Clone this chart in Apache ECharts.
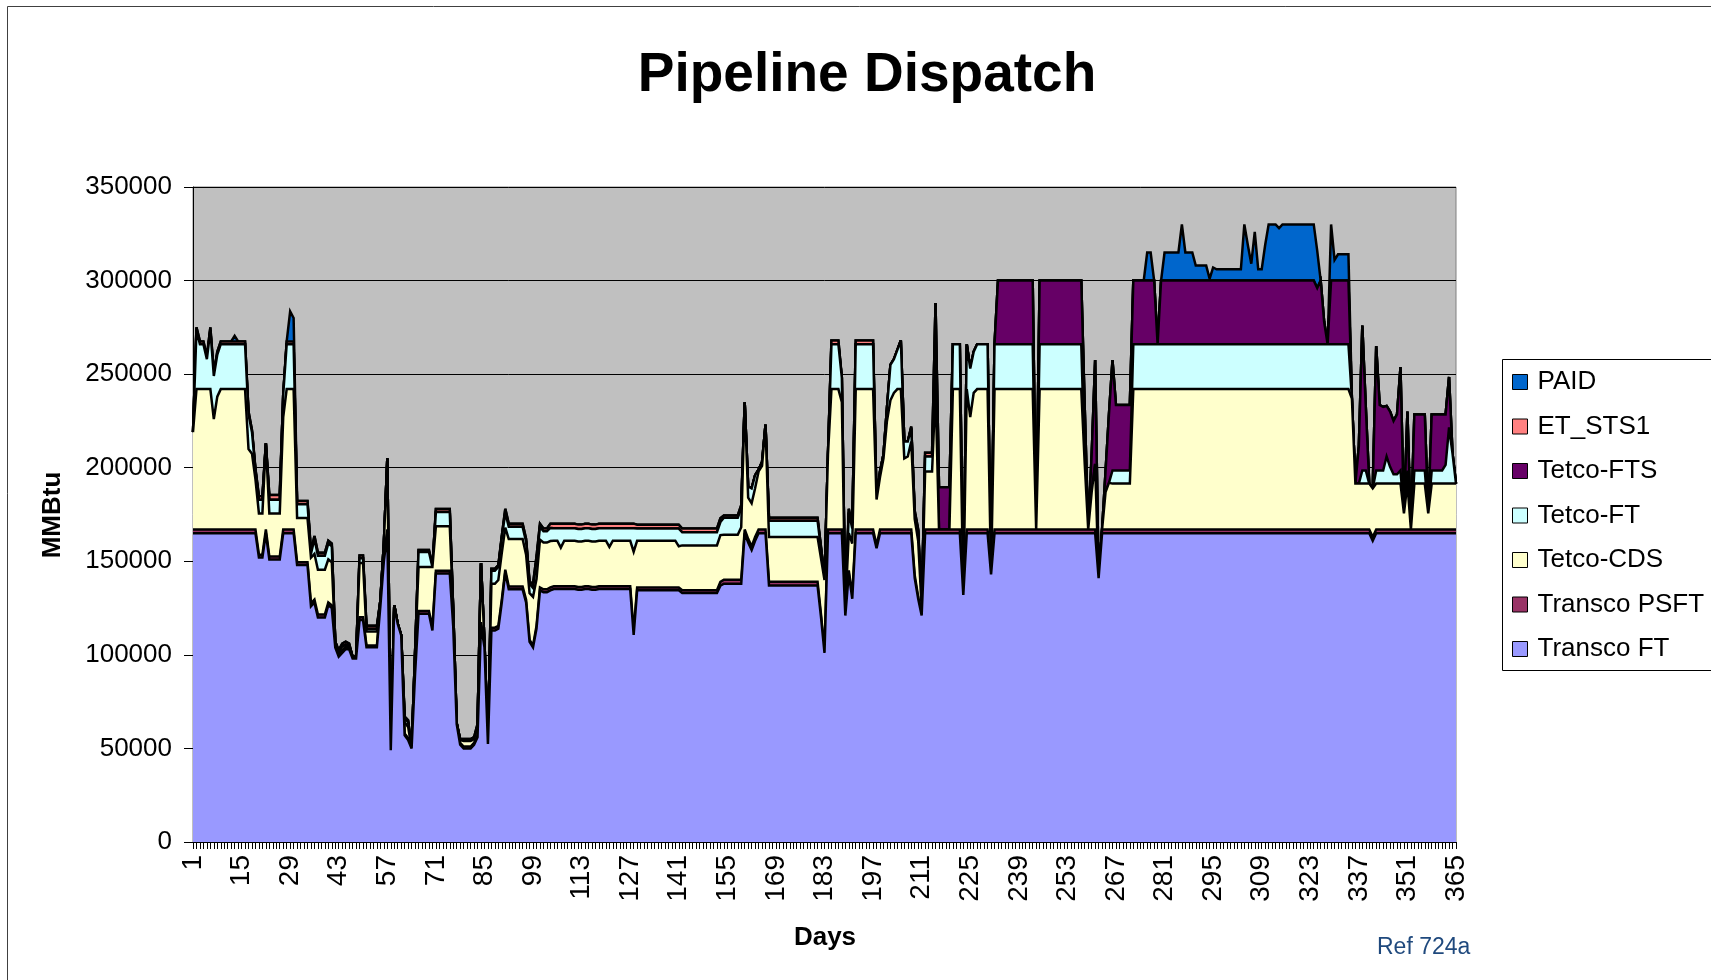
<!DOCTYPE html>
<html>
<head>
<meta charset="utf-8">
<title>Pipeline Dispatch</title>
<script src="https://cdn.jsdelivr.net/npm/echarts@6/dist/echarts.min.js"></script>
<style>
  html, body { margin: 0; padding: 0; background: #ffffff; }
  #chart { width: 1711px; height: 980px; }
</style>
</head>
<body>
<div id="chart"></div>
<script>
// Daily pipeline volumes in MMBtu, one value per day (days 1-365), rows of ten days.
const transcoFT = [
  165000,165000,165000,165000,165000,165000,165000,165000,165000,165000,
  165000,165000,165000,165000,165000,165000,165000,165000,165000,152000,
  152000,165000,151000,151000,151000,151000,165000,165000,165000,165000,
  148000,148000,148000,148000,126000,128000,120000,120000,120000,126500,
  125000,104000,99000,101000,103000,103000,98000,98000,118600,118600,
  104000,104000,104000,104000,126000,150000,165000,49000,126500,116500,
  110500,57000,54500,50000,90000,122000,122000,122000,122000,113000,
  143500,143500,143500,143500,143500,115000,63000,52000,50000,50000,
  50000,52000,56000,116000,104000,52400,113000,113000,114000,128000,
  144000,135000,135000,135000,135000,135000,128000,107000,104000,114000,
  134500,133500,133500,134500,135200,135200,135200,135200,135200,135200,
  135200,134800,134800,135200,135200,134800,134800,135200,135200,135200,
  135200,135200,135200,135200,135200,135200,135200,110600,134500,134500,
  134500,134500,134500,134500,134500,134500,134500,134500,134500,134500,
  134500,133000,133000,133000,133000,133000,133000,133000,133000,133000,
  133000,133000,137000,138000,138000,138000,138000,138000,138000,165000,
  160000,156000,161000,165000,165000,165000,137000,137000,137000,137000,
  137000,137000,137000,137000,137000,137000,137000,137000,137000,137000,
  137000,120000,101000,165000,165000,165000,165000,165000,121000,143600,
  130000,165000,165000,165000,165000,165000,165000,157000,165000,165000,
  165000,165000,165000,165000,165000,165000,165000,165000,141000,130000,
  121000,165000,165000,165000,165000,165000,165000,165000,165000,165000,
  165000,165000,132000,165000,165000,165000,165000,165000,165000,165000,
  143000,165000,165000,165000,165000,165000,165000,165000,165000,165000,
  165000,165000,165000,165000,165000,165000,165000,165000,165000,165000,
  165000,165000,165000,165000,165000,165000,165000,165000,165000,165000,
  165000,141000,165000,165000,165000,165000,165000,165000,165000,165000,
  165000,165000,165000,165000,165000,165000,165000,165000,165000,165000,
  165000,165000,165000,165000,165000,165000,165000,165000,165000,165000,
  165000,165000,165000,165000,165000,165000,165000,165000,165000,165000,
  165000,165000,165000,165000,165000,165000,165000,165000,165000,165000,
  165000,165000,165000,165000,165000,165000,165000,165000,165000,165000,
  165000,165000,165000,165000,165000,165000,165000,165000,165000,165000,
  165000,165000,165000,165000,165000,165000,165000,165000,165000,165000,
  161000,165000,165000,165000,165000,165000,165000,165000,165000,165000,
  165000,165000,165000,165000,165000,165000,165000,165000,165000,165000,
  165000,165000,165000,165000,165000
];

const transcoPSFT = [
  2000,2000,2000,2000,2000,2000,2000,2000,2000,2000,
  2000,2000,2000,2000,2000,2000,2000,2000,2000,1500,
  1500,2000,1500,1500,1500,1500,2000,2000,2000,2000,
  1500,1500,1500,1500,1500,1500,1500,1500,1500,1500,
  1500,1000,1000,1500,1500,1000,500,500,1500,1500,
  1000,1000,1000,1000,1000,1500,2000,0,0,0,
  0,1000,1000,0,1000,1500,1500,1500,1500,1500,
  1500,1500,1500,1500,1500,1000,500,1000,1000,1000,
  1000,1000,1000,1500,1000,0,1500,1500,1500,1500,
  1500,1500,1500,1500,1500,1500,1500,1000,1000,1500,
  1500,1500,1500,1500,1500,1500,1500,1500,1500,1500,
  1500,1500,1500,1500,1500,1500,1500,1500,1500,1500,
  1500,1500,1500,1500,1500,1500,1500,1500,1500,1500,
  1500,1500,1500,1500,1500,1500,1500,1500,1500,1500,
  1500,1500,1500,1500,1500,1500,1500,1500,1500,1500,
  1500,1500,2000,2200,2200,2200,2200,2200,2200,2000,
  2000,2000,2000,2000,2000,2000,2000,2000,2000,2000,
  2000,2000,2000,2000,2000,2000,2000,2000,2000,2000,
  2000,1500,1000,2000,2000,2000,2000,2000,1000,1500,
  1500,2000,2000,2000,2000,2000,2000,1500,2000,2000,
  2000,2000,2000,2000,2000,2000,2000,2000,1500,1000,
  1000,2000,2000,2000,2000,2000,2000,2000,2000,2000,
  2000,2000,0,2000,2000,2000,2000,2000,2000,2000,
  0,2000,2000,2000,2000,2000,2000,2000,2000,2000,
  2000,2000,2000,2000,2000,2000,2000,2000,2000,2000,
  2000,2000,2000,2000,2000,2000,2000,2000,2000,2000,
  2000,0,2000,2000,2000,2000,2000,2000,2000,2000,
  2000,2000,2000,2000,2000,2000,2000,2000,2000,2000,
  2000,2000,2000,2000,2000,2000,2000,2000,2000,2000,
  2000,2000,2000,2000,2000,2000,2000,2000,2000,2000,
  2000,2000,2000,2000,2000,2000,2000,2000,2000,2000,
  2000,2000,2000,2000,2000,2000,2000,2000,2000,2000,
  2000,2000,2000,2000,2000,2000,2000,2000,2000,2000,
  2000,2000,2000,2000,2000,2000,2000,2000,2000,2000,
  2000,2000,2000,2000,2000,2000,2000,2000,2000,2000,
  2000,2000,2000,2000,2000,2000,2000,2000,2000,2000,
  2000,2000,2000,2000,2000
];

const tetcoCDS = [
  52000,75000,75000,75000,75000,75000,59000,71000,75000,75000,
  75000,75000,75000,75000,75000,75000,43000,40500,26800,22100,
  22100,46000,23100,23100,23100,23100,60000,75000,75000,75000,
  23600,23600,23600,23600,24500,24500,24000,24000,24000,23000,
  23000,2000,1000,2000,1000,1000,500,0,29000,29000,
  7500,7500,7500,7500,2000,8000,38000,0,0,0,
  0,6000,6000,0,10000,23500,23500,23500,23500,32500,
  23700,23700,23700,23700,23700,8000,0,1500,3000,3000,
  3000,2000,5000,31500,2000,0,23500,23500,24500,25000,
  22500,25400,25400,25400,25400,25400,24000,25000,26000,25000,
  25500,25000,25000,24800,24300,24300,20600,24300,24300,24300,
  24300,24300,24300,24300,24300,24300,24300,24300,24300,24300,
  21000,24300,24300,24300,24300,24300,24300,43000,25000,25000,
  25000,25000,25000,25000,25000,25000,25000,25000,25000,25000,
  22000,24000,24000,24000,24000,24000,24000,24000,24000,24000,
  24000,24000,25000,24000,24000,24000,24000,24000,28000,68000,
  22000,23000,26000,31000,34000,56000,24000,24000,24000,24000,
  24000,24000,24000,24000,24000,24000,24000,24000,24000,24000,
  24000,30000,38000,40000,75000,75000,75000,68000,3000,20000,
  28000,75000,75000,75000,75000,75000,75000,24500,28000,38000,
  58000,69000,73000,75000,75000,38000,39000,47000,30000,30000,
  3000,31000,31000,31000,75000,0,0,0,0,75000,
  75000,75000,0,75000,60000,73000,75000,75000,75000,75000,
  0,75000,75000,75000,75000,75000,75000,75000,75000,75000,
  75000,75000,75000,0,75000,75000,75000,75000,75000,75000,
  75000,75000,75000,75000,75000,75000,75000,35000,0,20000,
  35000,0,0,20000,25000,24500,24500,24500,24500,24500,
  24500,75000,75000,75000,75000,75000,75000,75000,75000,75000,
  75000,75000,75000,75000,75000,75000,75000,75000,75000,75000,
  75000,75000,75000,75000,75000,75000,75000,75000,75000,75000,
  75000,75000,75000,75000,75000,75000,75000,75000,75000,75000,
  75000,75000,75000,75000,75000,75000,75000,75000,75000,75000,
  75000,75000,75000,75000,75000,75000,75000,75000,75000,75000,
  75000,75000,75000,75000,70000,24500,24500,24500,24500,24500,
  26000,24500,24500,24500,24500,24500,24500,24500,24500,8600,
  24500,0,24500,24500,24500,24500,8600,24500,24500,24500,
  24500,24500,24500,24500,24500
];

const tetcoFT = [
  0,31500,24000,24000,16000,31500,23000,22500,24000,24000,
  24000,24000,24000,24000,24000,24000,18500,11500,4600,7300,
  7300,0,7300,7300,7300,7300,12000,24000,24000,24000,
  7400,7400,7400,7400,2000,8000,7500,7500,7500,8500,
  8500,0,0,0,0,0,0,0,2500,2500,
  1500,1500,1500,1500,0,0,0,0,0,0,
  0,2000,2500,0,0,8000,8000,8000,8000,0,
  7600,7600,7600,7600,7600,0,0,0,0,0,
  0,0,0,0,0,0,7000,7000,7000,8000,
  8000,6500,6500,6500,6500,6500,7000,5000,4700,10000,
  6800,6000,6000,7000,6700,6700,10400,6700,6700,6700,
  6700,6700,6700,6700,6700,6700,6700,6700,6700,6700,
  10000,6700,6700,6700,6700,6700,6700,12500,6500,6500,
  6500,6500,6500,6500,6500,6500,6500,6500,6500,6500,
  9500,7000,7000,7000,7000,7000,7000,7000,7000,7000,
  7000,7000,7000,9100,9100,9100,9100,9100,10000,0,
  6000,8000,7000,1000,2000,0,8700,8700,8700,8700,
  8700,8700,8700,8700,8700,8700,8700,8700,8700,8700,
  8700,5000,0,0,24000,24000,24000,13000,0,11000,
  8000,24000,24000,24000,24000,24000,24000,0,3000,2000,
  7000,19000,18000,21000,26000,9000,8000,7000,3000,5000,
  0,8000,8000,8000,24000,0,0,0,0,24000,
  24000,24000,0,24000,26000,22000,24000,24000,24000,24000,
  0,24000,24000,24000,24000,24000,24000,24000,24000,24000,
  24000,24000,24000,0,24000,24000,24000,24000,24000,24000,
  24000,24000,24000,24000,24000,24000,24000,0,0,0,
  0,0,0,0,0,7000,7000,7000,7000,7000,
  7000,24000,24000,24000,24000,24000,24000,24000,24000,24000,
  24000,24000,24000,24000,24000,24000,24000,24000,24000,24000,
  24000,24000,24000,24000,24000,24000,24000,24000,24000,24000,
  24000,24000,24000,24000,24000,24000,24000,24000,24000,24000,
  24000,24000,24000,24000,24000,24000,24000,24000,24000,24000,
  24000,24000,24000,24000,24000,24000,24000,24000,24000,24000,
  24000,24000,24000,24000,0,0,0,7000,7000,0,
  0,7000,7000,7000,14500,9000,5000,5000,7000,0,
  7000,0,7000,7000,7000,7000,0,7000,7000,7000,
  7000,10000,30000,16000,0
];

const tetcoFTS = [
  0,0,0,0,0,0,0,0,0,0,
  0,0,0,0,0,0,0,0,0,0,
  0,0,0,0,0,0,0,0,0,0,
  0,0,0,0,0,0,0,0,0,0,
  0,0,0,0,0,0,0,0,0,0,
  0,0,0,0,0,0,0,0,0,0,
  0,0,0,0,0,0,0,0,0,0,
  0,0,0,0,0,0,0,0,0,0,
  0,0,0,0,0,0,0,0,0,0,
  0,0,0,0,0,0,0,0,0,0,
  0,0,0,0,0,0,0,0,0,0,
  0,0,0,0,0,0,0,0,0,0,
  0,0,0,0,0,0,0,0,0,0,
  0,0,0,0,0,0,0,0,0,0,
  0,0,0,0,0,0,0,0,0,0,
  0,0,0,0,0,0,0,0,0,0,
  0,0,0,0,0,0,0,0,0,0,
  0,0,0,0,0,0,0,0,0,0,
  0,0,0,0,0,0,0,0,0,0,
  0,0,0,0,0,0,0,0,0,0,
  0,0,0,0,0,0,0,0,0,0,
  0,0,0,0,22000,22500,22500,22500,22500,0,
  0,0,0,0,0,0,0,0,0,0,
  0,0,34000,34000,34000,34000,34000,34000,34000,34000,
  34000,34000,34000,0,34000,34000,34000,34000,34000,34000,
  34000,34000,34000,34000,34000,34000,34000,30000,0,20000,
  55500,0,0,11000,37000,59000,35000,35000,35000,35000,
  35000,34000,34000,34000,34000,34000,34000,34000,0,34000,
  34000,34000,34000,34000,34000,34000,34000,34000,34000,34000,
  34000,34000,34000,34000,34000,34000,34000,34000,34000,34000,
  34000,34000,34000,34000,34000,34000,34000,34000,34000,34000,
  34000,34000,34000,34000,34000,34000,34000,34000,34000,34000,
  34000,34000,34000,34000,30000,34000,12000,0,34000,34000,
  34000,34000,34000,34000,0,0,20000,77500,34000,0,
  0,66500,35000,34000,27000,29500,28500,32000,55300,0,
  31500,0,30000,30000,30000,30000,0,30000,30000,30000,
  30000,27000,27000,0,0
];

const etSTS1 = [
  0,1500,1500,1500,1500,1500,1500,1500,1500,1500,
  1500,1500,1500,1500,1500,1500,1500,1000,1000,1800,
  1800,0,2500,2500,2500,2500,0,1500,1500,1500,
  1700,1700,1700,1700,1000,1500,1500,1500,1500,1500,
  1500,0,1500,1500,1500,1000,0,0,1500,1500,
  1500,1500,1500,1500,0,0,0,0,0,0,
  0,1000,1000,0,0,1000,1000,1000,1000,0,
  1600,1600,1600,1600,1600,0,0,500,1000,1000,
  1000,1000,1000,0,0,0,1000,1000,1000,1000,
  2000,1600,1600,1600,1600,1600,1500,1000,2300,2000,
  1700,1500,1500,2200,2300,2300,2300,2300,2300,2300,
  2300,2300,2300,2300,2300,2300,2300,2300,2300,2300,
  2300,2300,2300,2300,2300,2300,2300,2500,2000,2000,
  2000,2000,2000,2000,2000,2000,2000,2000,2000,2000,
  2000,2000,2000,2000,2000,2000,2000,2000,2000,2000,
  2000,2000,2000,1200,1200,1200,1200,1200,1800,0,
  0,0,0,0,0,0,1600,1600,1600,1600,
  1600,1600,1600,1600,1600,1600,1600,1600,1600,1600,
  1600,1000,0,0,2000,2000,2000,0,0,2000,
  1500,2000,2000,2000,2000,2000,2000,0,0,0,
  0,0,0,0,0,0,0,1000,1500,1000,
  0,2000,2000,2000,0,0,0,0,0,0,
  0,0,0,0,0,0,0,0,0,0,
  0,0,0,0,0,0,0,0,0,0,
  0,0,0,0,0,0,0,0,0,0,
  0,0,0,0,0,0,0,0,0,0,
  0,0,0,0,0,0,0,0,0,0,
  0,0,0,0,0,0,0,0,0,0,
  0,0,0,0,0,0,0,0,0,0,
  0,0,0,0,0,0,0,0,0,0,
  0,0,0,0,0,0,0,0,0,0,
  0,0,0,0,0,0,0,0,0,0,
  0,0,0,0,0,0,0,0,0,0,
  0,0,0,0,0,0,0,0,0,0,
  0,0,0,0,0,0,0,0,0,0,
  0,0,0,0,0,0,0,0,0,0,
  0,0,0,0,0
];

const paid = [
  0,0,0,0,0,0,0,0,0,0,
  0,0,3000,0,0,0,0,0,0,0,
  0,0,0,0,0,0,0,0,16000,12500,
  0,0,0,0,0,0,0,0,0,0,
  0,0,0,0,0,0,0,0,0,0,
  0,0,0,0,0,0,0,0,0,0,
  0,0,0,0,0,0,0,0,0,0,
  0,0,0,0,0,0,0,0,0,0,
  0,0,0,0,0,0,0,0,0,0,
  0,0,0,0,0,0,0,0,0,0,
  0,0,0,0,0,0,0,0,0,0,
  0,0,0,0,0,0,0,0,0,0,
  0,0,0,0,0,0,0,0,0,0,
  0,0,0,0,0,0,0,0,0,0,
  0,0,0,0,0,0,0,0,0,0,
  0,0,0,0,0,0,0,0,0,0,
  0,0,0,0,0,0,0,0,0,0,
  0,0,0,0,0,0,0,0,0,0,
  0,0,0,0,0,0,0,0,0,0,
  0,0,0,0,0,0,0,0,0,0,
  0,0,0,0,0,0,0,0,0,0,
  0,0,0,0,0,0,0,0,0,0,
  0,0,0,0,0,0,0,0,0,0,
  0,0,0,0,0,0,0,0,0,0,
  0,0,0,0,0,0,0,0,0,0,
  0,0,0,0,0,0,0,0,0,0,
  0,0,0,0,0,0,0,0,0,0,
  0,0,0,0,0,15000,15000,0,0,0,
  15000,15000,15000,15000,15000,30000,15000,15000,15000,8000,
  8000,8000,8000,1000,7000,6000,6000,6000,6000,6000,
  6000,6000,6000,30000,19000,9000,26000,6000,6000,19000,
  30000,30000,30000,28000,30000,30000,30000,30000,30000,30000,
  30000,30000,30000,30000,20000,0,0,0,30000,11000,
  14000,14000,14000,14000,0,0,0,0,0,0,
  0,0,0,0,0,0,0,0,0,0,
  0,0,0,0,0,0,0,0,0,0,
  0,0,0,0,0
];

// Category labels for the day axis
const days = [];
for (let d = 1; d <= 365; d++) days.push(String(d));

const FONT = '"Liberation Sans", Arial, Helvetica, sans-serif';

const chart = echarts.init(document.getElementById('chart'), null, { renderer: 'canvas' });

// Stacked band with a black outline on its upper edge; lower bands sit higher in z
// so that each outline stays fully visible above the band stacked on it.
function band(name, data, color, z) {
  return {
    name: name,
    type: 'line',
    stack: 'dispatch',
    data: data,
    z: z,
    symbol: 'none',
    showSymbol: false,
    silent: true,
    smooth: false,
    lineStyle: { color: '#000000', width: 2.5, join: 'miter', miterLimit: 4 },
    itemStyle: { color: color, borderColor: '#000000', borderWidth: 1 },
    areaStyle: { color: color, opacity: 1 },
    emphasis: { disabled: true }
  };
}

const option = {
  animation: false,
  backgroundColor: '#ffffff',
  textStyle: { fontFamily: FONT },
  grid: {
    left: 193, top: 187, width: 1263, height: 655,
    containLabel: false,
    outerBoundsMode: 'none',
    show: true,
    backgroundColor: '#C0C0C0',
    borderColor: '#808080',
    borderWidth: 1
  },
  legend: {
    orient: 'vertical',
    left: 1512,
    top: 369,
    padding: 0,
    itemWidth: 15,
    itemHeight: 15,
    itemGap: 18.5,
    icon: 'rect',
    z: 10,
    selectedMode: false,
    itemStyle: { borderColor: '#000000', borderWidth: 1 },
    textStyle: { fontFamily: FONT, fontSize: 26, color: '#000000', padding: [0, 0, 0, 5] },
    data: ['PAID', 'ET_STS1', 'Tetco-FTS', 'Tetco-FT', 'Tetco-CDS', 'Transco PSFT', 'Transco FT']
  },
  xAxis: {
    type: 'category',
    data: days,
    boundaryGap: false,
    axisLine: { show: true, lineStyle: { color: '#000000', width: 1 } },
    axisTick: { show: true, interval: 0, length: 7, lineStyle: { color: '#000000', width: 1 } },
    axisLabel: { interval: 13, rotate: 90, margin: 13, fontSize: 28, color: '#000000', fontFamily: FONT },
    splitLine: { show: false }
  },
  yAxis: {
    type: 'value',
    min: 0,
    max: 350000,
    interval: 50000,
    axisLine: { show: true, lineStyle: { color: '#000000', width: 1 } },
    axisTick: { show: true, length: 9, lineStyle: { color: '#000000', width: 1 } },
    axisLabel: {
      margin: 21, fontSize: 26, color: '#000000', fontFamily: FONT,
      formatter: function (v) { return String(v); }
    },
    splitLine: { show: true, lineStyle: { color: '#000000', width: 1 } }
  },
  series: [
    band('Transco FT', transcoFT, '#9999FF', 19),
    band('Transco PSFT', transcoPSFT, '#993366', 18),
    band('Tetco-CDS', tetcoCDS, '#FFFFCC', 17),
    band('Tetco-FT', tetcoFT, '#CCFFFF', 16),
    band('Tetco-FTS', tetcoFTS, '#660066', 15),
    band('ET_STS1', etSTS1, '#FF8080', 14),
    band('PAID', paid, '#0066CC', 13)
  ],
  graphic: [
    {
      type: 'rect', z: 0, silent: true,
      shape: { x: 7.5, y: 6.5, width: 1800, height: 1100 },
      style: { fill: 'none', stroke: '#404040', lineWidth: 1 }
    },
    {
      type: 'rect', z: 1, silent: true,
      shape: { x: 1502.5, y: 359.5, width: 300, height: 311 },
      style: { fill: '#ffffff', stroke: '#000000', lineWidth: 1 }
    },
    {
      type: 'text', z: 5, silent: true,
      x: 867, y: 76,
      style: { text: 'Pipeline Dispatch', font: 'bold 55px ' + FONT, fill: '#000000', align: 'center', verticalAlign: 'middle' }
    },
    {
      type: 'text', z: 5, silent: true,
      x: 53, y: 515, rotation: Math.PI / 2,
      style: { text: 'MMBtu', font: 'bold 26px ' + FONT, fill: '#000000', align: 'center', verticalAlign: 'middle' }
    },
    {
      type: 'text', z: 5, silent: true,
      x: 825, y: 938,
      style: { text: 'Days', font: 'bold 26px ' + FONT, fill: '#000000', align: 'center', verticalAlign: 'middle' }
    },
    {
      type: 'text', z: 5, silent: true,
      x: 1377, y: 948,
      style: { text: 'Ref 724a', font: '23px ' + FONT, fill: '#1F497D', align: 'left', verticalAlign: 'middle' }
    }
  ]
};

chart.setOption(option);
</script>
</body>
</html>
